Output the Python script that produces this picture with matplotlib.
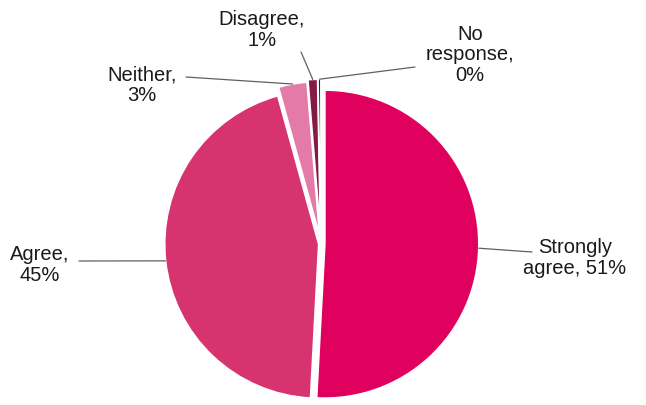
import numpy as np
import matplotlib.pyplot as plt

plt.rcParams['font.family'] = ['Liberation Sans', 'DejaVu Sans']

# Survey responses (%)
categories = ['Strongly agree', 'Agree', 'Neither', 'Disagree', 'No response']
values = [51, 45, 3, 1, 0.3]
labels = ['Strongly\nagree, 51%', 'Agree,\n45%', 'Neither,\n3%', 'Disagree,\n1%', 'No\nresponse,\n0%']
colors = ['#E0005E', '#D6336F', '#E37AA7', '#861A47', '#5C0F2E']
explode = [0.025, 0.015, 0.055, 0.07, 0.07]  # fraction of radius

W, H = 646, 405
fig = plt.figure(figsize=(W / 100, H / 100), dpi=100)
ax = fig.add_axes([0, 0, 1, 1])

cx, cy, r = 321, H - 244, 154
wedges, _ = ax.pie(values, colors=colors, startangle=90, counterclock=False,
                   explode=[e * r for e in explode], radius=r, center=(cx, cy), frame=True,
                   wedgeprops=dict(edgecolor='white', linewidth=1.2))
ax.set_xlim(0, W)
ax.set_ylim(0, H)
ax.set_aspect('equal')
ax.axis('off')

# label text positions (pixel coords from top) and leader start points
text_pos = [(575, 258), (40, 265), (142, 85), (262, 30), (470, 55)]
line_start = [(532, 252), (79, 261), (186, 77), (301, 52), (415, 67)]

for w, lab, tp, ls in zip(wedges, labels, text_pos, line_start):
    ang = np.deg2rad((w.theta1 + w.theta2) / 2)
    wx, wy = w.center
    px = wx + w.r * np.cos(ang)
    py = wy + w.r * np.sin(ang)
    ax.text(tp[0], H - tp[1], lab, ha='center', va='center', fontsize=14.5,
            color='#1a1a1a', linespacing=1.1)
    ax.annotate('', xy=(px, py), xytext=(ls[0], H - ls[1]),
                arrowprops=dict(arrowstyle='-', color='#606060', lw=0.9,
                                shrinkA=0, shrinkB=0))

fig.savefig('out.png', dpi=100)
